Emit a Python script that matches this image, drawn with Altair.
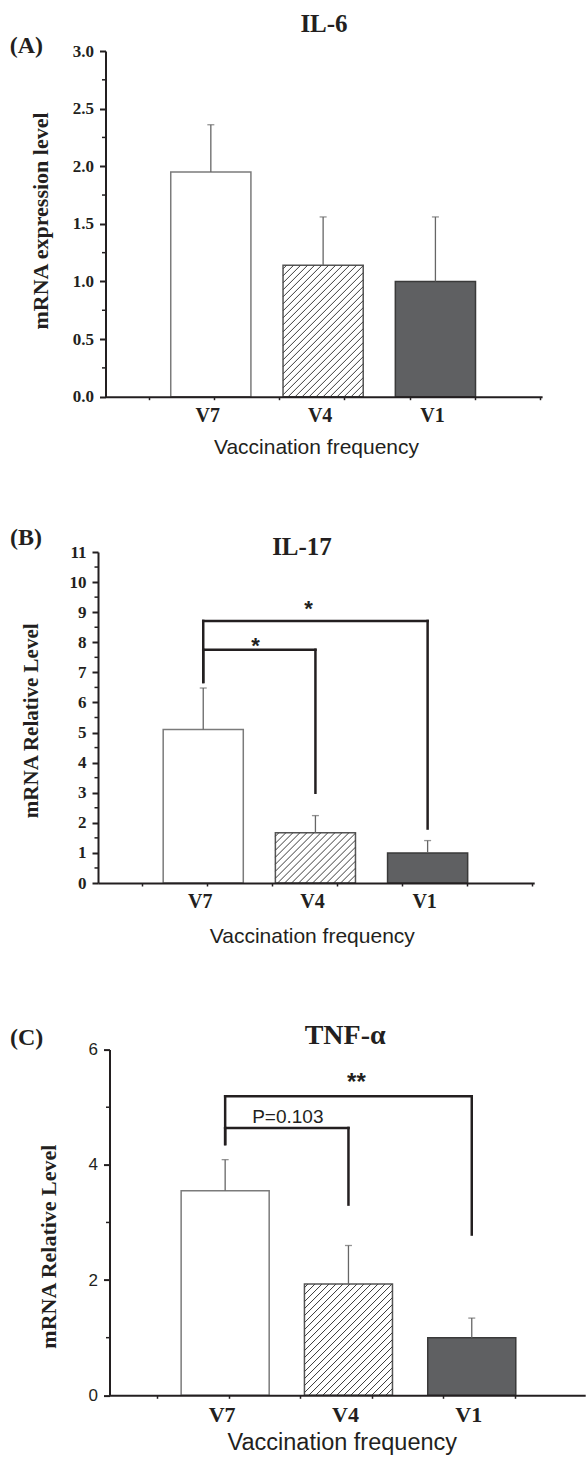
import altair as alt
import numpy as np
import pandas as pd

# ---- data -----------------------------------------------------------------
groups = ["V7", "V4", "V1"]

il6_mean = [1.95, 1.14, 1.00]
il6_sd = [0.41, 0.42, 0.56]

il17_mean = [5.10, 1.67, 1.00]
il17_sd = [1.38, 0.57, 0.41]

tnf_mean = [3.55, 1.93, 1.00]
tnf_sd = [0.54, 0.67, 0.34]

# comparison brackets: (group a, group b, bracket level, left drop end, right drop end)
il17_brackets = [(0, 1, 7.75, 6.68, 3.00), (0, 2, 8.71, 6.68, 1.81)]
il17_labels = ["*", "*"]
tnf_brackets = [(0, 1, 4.64, 4.36, 3.31), (0, 2, 5.19, 4.36, 2.79)]
tnf_labels = ["P=0.103", "**"]

panel_tags = ["(A)", "(B)", "(C)"]
panel_titles = ["IL-6", "IL-17", "TNF-\u03b1"]
y_titles = ["mRNA expression level", "mRNA Relative Level", "mRNA Relative Level"]
x_title = "Vaccination frequency"

# ---- style ----------------------------------------------------------------
SERIF = "Liberation Serif"
SANS = "Liberation Sans"
INK = "#231f20"
FILLS = ["#ffffff", "#ffffff", "#5f6062"]
EDGES = ["#7b7b7b", "#555555", "#3a3a3a"]
ERR = "#666666"
X_LO = 0.062
BAR_HALF = 0.357


def text_layer(text, x, y, size, font=SERIF, weight="bold", align="center",
               baseline="alphabetic", angle=0):
    kw = dict(font=font, fontSize=size, fontWeight=weight, align=align,
              baseline=baseline, color=INK)
    if angle:
        kw["angle"] = angle
    return alt.Chart(pd.DataFrame({"t": [text]})).mark_text(**kw).encode(
        x=alt.value(x), y=alt.value(y), text="t:N")


def hatch_rules(center, value, ppx, ppy, gap=7.0):
    """45-degree '/' hatch lines clipped to one bar, in data units."""
    w = 2 * BAR_HALF * ppx
    h = value * ppy
    rows = []
    for c in np.arange(-h + gap / 2, w, gap):
        y0 = max(0.0, -c)
        y1 = min(h, w - c)
        if y1 - y0 < 0.5:
            continue
        rows.append({"x": center - BAR_HALF + (c + y0) / ppx, "y": y0 / ppy,
                     "x2": center - BAR_HALF + (c + y1) / ppx, "y2": y1 / ppy})
    return pd.DataFrame(rows)


def panel(means, sds, y_max, major, minor, fmt, tick_font, tick_size, tick_weight,
          shift, plot_w, height, x_hi, lay, brackets=(), notes=()):
    """One bar panel; its axes start `shift` px right of the panel origin."""
    ppx = plot_w / (x_hi - X_LO)
    ppy = height / y_max
    pos = np.arange(1, len(groups) + 1)
    bars = pd.DataFrame({
        "group": groups, "pos": pos,
        "left": pos - BAR_HALF, "right": pos + BAR_HALF,
        "base": 0.0, "mean": means, "top": np.add(means, sds),
    })
    xs = alt.Scale(domain=[X_LO, x_hi], range=[shift, shift + plot_w],
                   nice=False, zero=False)
    ys = alt.Scale(domain=[0, y_max], nice=False, zero=True)
    x_ticks = [round(0.45 + 0.58 * k, 3) for k in range(7) if 0.45 + 0.58 * k < x_hi]

    x_axis = alt.Axis(values=x_ticks, labels=False, tickSize=3, tickWidth=1.5,
                      tickColor=INK, domainColor=INK, domainWidth=2, grid=False,
                      title=None, zindex=2)
    y_axis = alt.Axis(values=major, format=fmt, tickSize=6, tickWidth=2,
                      tickColor=INK, domainColor=INK, domainWidth=2, grid=False,
                      labelFont=tick_font, labelFontSize=tick_size,
                      labelFontWeight=tick_weight, labelColor=INK, labelPadding=6,
                      labelOverlap=False, title=None, zindex=2, offset=-shift)

    def X(field):
        return alt.X(field, scale=xs, axis=x_axis)

    def Y(field):
        return alt.Y(field, scale=ys, axis=y_axis)

    layers = []
    layers.append(alt.Chart(bars).mark_rect(strokeWidth=1.5).encode(
        x=X("left:Q"), x2="right:Q", y=Y("mean:Q"), y2="base:Q",
        fill=alt.Fill("group:N", scale=alt.Scale(domain=groups, range=FILLS), legend=None),
        stroke=alt.Stroke("group:N", scale=alt.Scale(domain=groups, range=EDGES), legend=None),
    ))
    # hatching of the V4 bar
    layers.append(alt.Chart(hatch_rules(pos[1], means[1], ppx, ppy)).mark_rule(
        color="#3c3c3c", strokeWidth=1).encode(
        x=X("x:Q"), x2="x2:Q", y=Y("y:Q"), y2="y2:Q"))
    # error bars (upper SD only) with caps
    layers.append(alt.Chart(bars).mark_rule(color=ERR, strokeWidth=1.3).encode(
        x=X("pos:Q"), y=Y("mean:Q"), y2="top:Q"))
    layers.append(alt.Chart(bars).mark_tick(orient="horizontal", size=7, thickness=1.3,
                                            color=ERR).encode(
        x=X("pos:Q"), y=Y("top:Q")))
    # minor y ticks
    layers.append(alt.Chart(pd.DataFrame({"v": minor})).mark_rule(
        color=INK, strokeWidth=1.5).encode(
        y=Y("v:Q"), x=alt.value(shift - 3.5), x2=alt.value(shift)))

    # significance brackets
    if brackets:
        segs = []
        for a, b, level, end_a, end_b in brackets:
            segs.append({"x": a + 1, "x2": b + 1, "y": level, "y2": level})
            segs.append({"x": a + 1, "x2": a + 1, "y": level, "y2": end_a})
            segs.append({"x": b + 1, "x2": b + 1, "y": level, "y2": end_b})
        layers.append(alt.Chart(pd.DataFrame(segs)).mark_rule(
            color=INK, strokeWidth=2.5, strokeCap="square").encode(
            x=X("x:Q"), x2="x2:Q", y=Y("y:Q"), y2="y2:Q"))
        for (a, b, level, _, _), text, style in zip(brackets, notes, lay["notes"]):
            font, size, weight, dx, dy = style
            layers.append(alt.Chart(pd.DataFrame(
                {"t": [text], "x": [(a + b) / 2 + 1], "y": [level]})).mark_text(
                font=font, fontSize=size, fontWeight=weight, color=INK,
                baseline="alphabetic", dx=dx, dy=dy).encode(
                x=X("x:Q"), y=Y("y:Q"), text="t:N"))

    # category labels under the axis
    layers.append(alt.Chart(bars).mark_text(
        font=SERIF, fontWeight="bold", fontSize=lay["xlab_size"], color=INK,
        baseline="alphabetic", dx=-3).encode(
        x=X("pos:Q"), y=alt.value(lay["xlab_y"]), text="group:N"))

    tag, ttl, yt, xt = lay["tag"], lay["title"], lay["ytitle"], lay["xtitle"]
    layers.append(text_layer(tag[0], shift + tag[1], tag[2], 24, align="left"))
    layers.append(text_layer(ttl[0], shift + ttl[1], ttl[2], ttl[3]))
    layers.append(text_layer(yt[0], shift + yt[1], yt[2], yt[3], baseline="middle",
                             angle=270))
    layers.append(text_layer(x_title, shift + xt[0], xt[1], xt[2], font=SANS,
                             weight="normal"))

    if lay.get("anchor"):
        ax, ay = lay["anchor"]
        layers.append(alt.Chart(pd.DataFrame({"s": [0]})).mark_rule(
            opacity=0, strokeWidth=0).encode(
            x=alt.value(ax), x2=alt.value(ax), y=alt.value(ay), y2=alt.value(ay)))

    return alt.layer(*layers).properties(width=shift + plot_w, height=height)


panel_a = panel(
    il6_mean, il6_sd, 3.0, [0, 0.5, 1.0, 1.5, 2.0, 2.5, 3.0],
    [0.25, 0.75, 1.25, 1.75, 2.25, 2.75], ".1f", SERIF, 17, "bold",
    7.5, 436.6, 345.7, 3.95,
    {"tag": (panel_tags[0], -95.7, 2), "title": (panel_titles[0], 218.5, -18.7, 25),
     "ytitle": (y_titles[0], -64.7, 170, 22), "xtitle": (211, 403, 21),
     "xlab_y": 370.7, "xlab_size": 20, "anchor": (-97.5, -51)},
)

panel_b = panel(
    il17_mean, il17_sd, 11.0, list(range(0, 12)),
    [k + 0.5 for k in range(11)], "d", SERIF, 17, "bold",
    0, 436.2, 331.0, 3.95,
    {"tag": (panel_tags[1], -88.1, -6.7), "title": (panel_titles[1], 204, 3.3, 25),
     "ytitle": (y_titles[1], -66.5, 168.8, 21), "xtitle": (214.3, 391, 21),
     "xlab_y": 356.3, "xlab_size": 20,
     "notes": [(SANS, 22, "bold", -3.7, 3.6), (SANS, 22, "bold", -7, -5.4)]},
    brackets=il17_brackets, notes=il17_labels,
)

panel_c = panel(
    tnf_mean, tnf_sd, 6.0, [0, 2, 4, 6], [1, 3, 5], "d", SANS, 17, "normal",
    11.5, 475.7, 345.7, 3.92,
    {"tag": (panel_tags[2], -99.6, -4.3), "title": (panel_titles[2], 235.6, -6, 28),
     "ytitle": (y_titles[2], -60.5, 197, 22), "xtitle": (232.8, 400, 23.5),
     "xlab_y": 372.4, "xlab_size": 22,
     "notes": [(SANS, 19, "normal", 1, -5), (SANS, 24, "bold", 8, -6.3)]},
    brackets=tnf_brackets, notes=tnf_labels,
)

chart = alt.vconcat(
    panel_a,
    alt.vconcat(panel_b, panel_c, spacing=166.6, bounds="flush"),
    spacing=155, bounds="flush",
).properties(padding=0).configure_view(stroke=None)

chart.save("out.html", embed_options={"renderer": "svg", "actions": False})
